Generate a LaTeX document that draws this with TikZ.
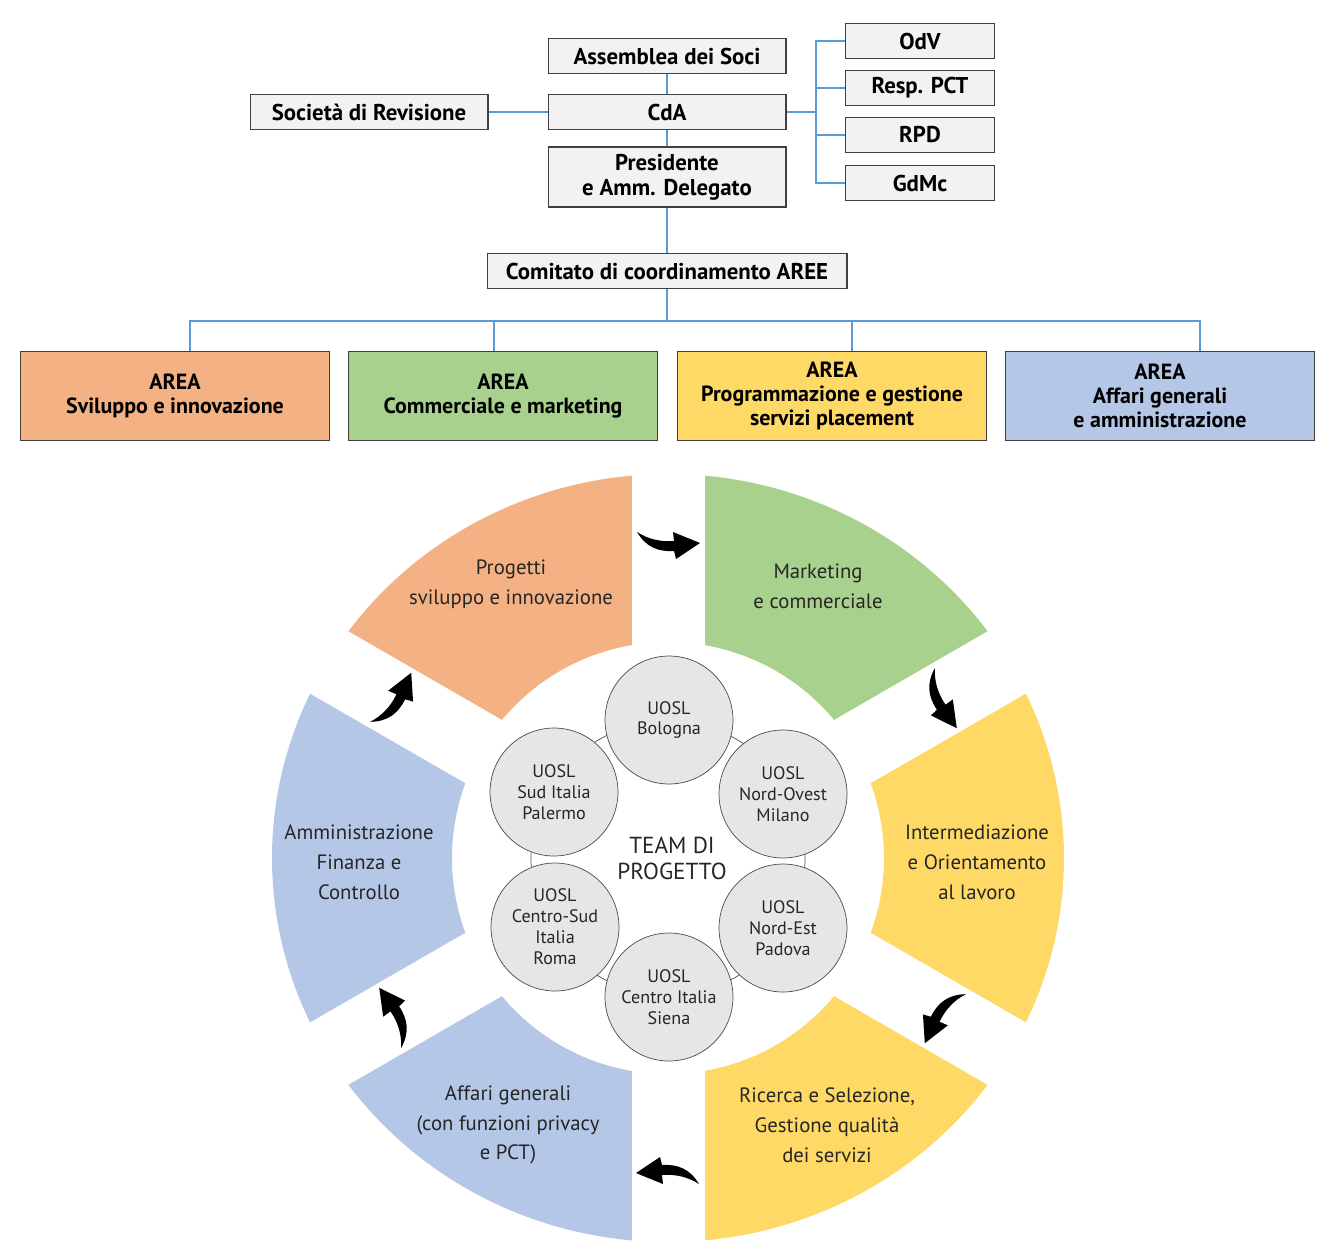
\documentclass[tikz,border=0pt]{standalone}
\usepackage{fontspec}
\setmainfont{PT Sans}
\usepackage{xcolor}
\usetikzlibrary{positioning, calc}

\definecolor{areaorange}{HTML}{F4B183}
\definecolor{areagreen}{HTML}{A9D18E}
\definecolor{areayellow}{HTML}{FFD966}
\definecolor{areablue}{HTML}{B4C7E7}
\definecolor{boxgray}{HTML}{F2F2F2}
\definecolor{linkblue}{HTML}{5B9BD5}
\definecolor{darktext}{HTML}{262626}
\definecolor{unitgray}{HTML}{E7E6E6}

\tikzset{
    flowarrow/.pic={
        \fill[black] (-31,-13) .. controls (-22,2) and (-10,7) .. (6,6) -- (8,14) -- (32,-2)
            -- (5,-13) -- (6,-4) .. controls (-8,-3) and (-20,-6) .. (-31,-13) -- cycle;
    }
}

\begin{document}
\begin{tikzpicture}[
    x=0.02cm, y=-0.02cm,
    orgbox/.style={rectangle, draw=black!75, fill=boxgray, line width=0.6pt, minimum width=4.76cm, minimum height=0.7cm, align=center, font=\fontsize{13}{14.2}\selectfont\bfseries},
    sidebox/.style={orgbox, minimum width=2.98cm},
    areabox/.style={rectangle, draw=black!75, line width=0.6pt, minimum width=6.18cm, minimum height=1.78cm, align=center, font=\fontsize{12.5}{13.6}\selectfont\bfseries},
    link/.style={draw=linkblue, line width=0.6pt},
    unit/.style={circle, draw=black!70, fill=unitgray, line width=0.4pt, minimum size=2.56cm, inner sep=0pt, align=center, text=darktext, font=\fontsize{10.3}{11.9}\selectfont},
    phase/.style={align=center, text=darktext, font=\fontsize{11.8}{17}\selectfont}
]
    \useasboundingbox (0,0) rectangle (1335,1259);

    % governance
    \node[orgbox] (assemblea) at (667,56) {Assemblea dei Soci};
    \node[orgbox] (cda) at (667,112) {CdA};
    \node[orgbox, minimum height=1.2cm] (presidente) at (667,177) {Presidente\\e Amm. Delegato};
    \node[orgbox] (revisione) at (369,112) {Società di Revisione};
    \node[sidebox] (odv) at (920,41) {OdV};
    \node[sidebox] (pct) at (920,88) {Resp. PCT};
    \node[sidebox] (rpd) at (920,135) {RPD};
    \node[sidebox] (gdmc) at (920,183) {GdMc};
    \node[orgbox, minimum width=7.2cm] (comitato) at (667,271) {Comitato di coordinamento AREE};

    \coordinate (sidebus) at (816,112);
    \coordinate (areabus) at (667,321);

    \draw[link] (assemblea) -- (cda);
    \draw[link] (cda) -- (presidente);
    \draw[link] (revisione) -- (cda);
    \draw[link] (cda) -- (sidebus);
    \foreach \n in {odv,pct,rpd,gdmc}
        \draw[link] (sidebus) |- (\n.west);
    \draw[link] (presidente) -- (comitato);
    \draw[link] (comitato) -- (areabus);

    % aree
    \node[areabox, fill=areaorange] (sviluppo) at (175,396) {AREA\\Sviluppo e innovazione};
    \node[areabox, fill=areagreen] (commerciale) at (503,396) {AREA\\Commerciale e marketing};
    \node[areabox, fill=areayellow] (placement) at (832,396) {AREA\\Programmazione e gestione\\servizi placement};
    \node[areabox, fill=areablue] (affari) at (1160,396) {AREA\\Affari generali\\e amministrazione};

    \draw[link] (areabus) -| ([xshift=0.3cm]sviluppo.north);
    \draw[link] (areabus) -| ([xshift=-0.18cm]commerciale.north);
    \draw[link] (areabus) -| ([xshift=0.4cm]placement.north);
    \draw[link] (areabus) -| ([xshift=0.8cm]affari.north);

    % ciclo
    \begin{scope}[shift={(668,858)}, yscale=-1]
        \foreach \a/\c in {90/areaorange, 30/areagreen, -30/areayellow, -90/areayellow, -150/areablue, -210/areablue}
            \fill[\c] (\a:396 and 384) arc[start angle=\a, end angle=\a+60, x radius=396, y radius=384]
                -- ({\a+60}:216) arc[start angle=\a+60, end angle=\a, radius=216] -- cycle;
        \foreach \a in {30,90,...,330}
            \draw[white, line width=1.46cm] (0,0) -- (\a:404);
        \draw[black!70, line width=0.4pt] (0,0) circle[radius=137];
        \foreach \k in {0,...,5}
            \pic[rotate=-60*\k] at ({90-60*\k}:313) {flowarrow};
    \end{scope}

    \node[phase] (progetti) at (511,584) {Progetti\\sviluppo e innovazione};
    \node[phase] (marketing) at (818,586) {Marketing\\e commerciale};
    \node[phase] (intermediazione) at (977,862) {Intermediazione\\e Orientamento\\al lavoro};
    \node[phase] (ricerca) at (827,1125) {Ricerca e Selezione,\\Gestione qualità\\dei servizi};
    \node[phase] (generali) at (508,1125) {Affari generali\\(con funzioni privacy\\e PCT)};
    \node[phase] (amministrazione) at (359,862) {Amministrazione\\Finanza e\\Controllo};

    \node[unit] (bologna) at (669,720) {UOSL\\Bologna};
    \node[unit] (milano) at (783,794) {UOSL\\Nord-Ovest\\Milano};
    \node[unit] (padova) at (783,928) {UOSL\\Nord-Est\\Padova};
    \node[unit] (siena) at (669,997) {UOSL\\Centro Italia\\Siena};
    \node[unit] (roma) at (555,927) {UOSL\\Centro-Sud\\Italia\\Roma};
    \node[unit] (palermo) at (554,792) {UOSL\\Sud Italia\\Palermo};
    \node[align=center, text=darktext, font=\fontsize{13.2}{14.7}\selectfont] (team) at (672,858) {TEAM DI\\PROGETTO};
\end{tikzpicture}
\end{document}
